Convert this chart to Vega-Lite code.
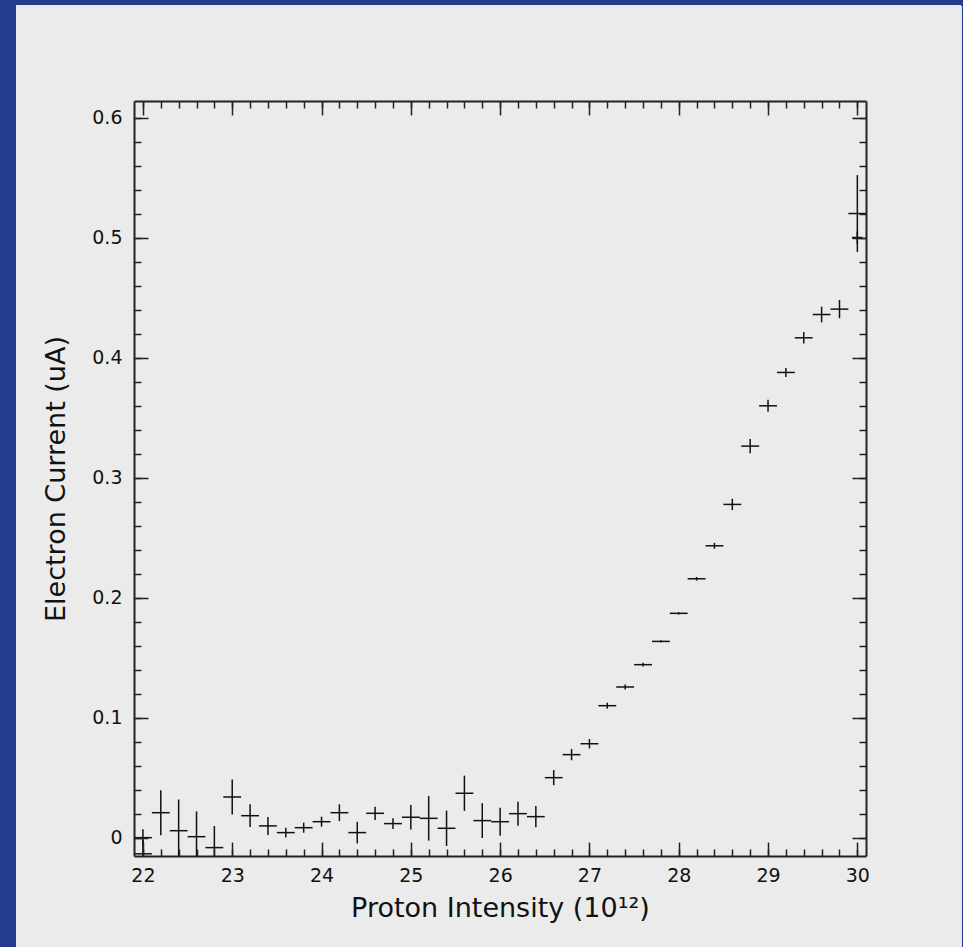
{
  "$schema": "https://vega.github.io/schema/vega-lite/v6.json",
  "width": 732,
  "height": 755,
  "autosize": {"type": "none"},
  "padding": {"left": 134, "top": 101, "right": 97, "bottom": 91},
  "background": "#243c8c",
  "config": {
    "view": {"stroke": null},
    "axis": {
      "grid": false,
      "tickColor": "#222222",
      "tickWidth": 1.5,
      "domainColor": "#222222",
      "domainWidth": 2,
      "labelFont": "DejaVu Sans",
      "labelFontSize": 19,
      "labelColor": "#111111",
      "titleFont": "DejaVu Sans",
      "titleFontSize": 27,
      "titleFontWeight": "normal",
      "titleColor": "#111111",
      "labelFlush": false,
      "labelOverlap": false
    }
  },
  "data": {
    "values": [
      {"x": 22.0, "y": 0.000, "xerr": 0.1, "yerr": 0.007},
      {"x": 22.0, "y": -0.0135, "xerr": 0.1, "yerr": 0.012},
      {"x": 22.2, "y": 0.0208, "xerr": 0.1, "yerr": 0.0187},
      {"x": 22.4, "y": 0.0058, "xerr": 0.1, "yerr": 0.026},
      {"x": 22.6, "y": 0.0008, "xerr": 0.1, "yerr": 0.021},
      {"x": 22.8, "y": -0.0083, "xerr": 0.1, "yerr": 0.018},
      {"x": 23.0, "y": 0.0339, "xerr": 0.1, "yerr": 0.0146},
      {"x": 23.2, "y": 0.0183, "xerr": 0.1, "yerr": 0.0095},
      {"x": 23.4, "y": 0.0098, "xerr": 0.1, "yerr": 0.0075},
      {"x": 23.6, "y": 0.0042, "xerr": 0.1, "yerr": 0.004},
      {"x": 23.8, "y": 0.0083, "xerr": 0.1, "yerr": 0.0042},
      {"x": 24.0, "y": 0.0133, "xerr": 0.1, "yerr": 0.0042},
      {"x": 24.2, "y": 0.0208, "xerr": 0.1, "yerr": 0.007},
      {"x": 24.4, "y": 0.0042, "xerr": 0.1, "yerr": 0.009},
      {"x": 24.6, "y": 0.0203, "xerr": 0.1, "yerr": 0.0055},
      {"x": 24.8, "y": 0.0117, "xerr": 0.1, "yerr": 0.0045},
      {"x": 25.0, "y": 0.017, "xerr": 0.1, "yerr": 0.0102},
      {"x": 25.2, "y": 0.0161, "xerr": 0.1, "yerr": 0.0186},
      {"x": 25.4, "y": 0.0078, "xerr": 0.1, "yerr": 0.0147},
      {"x": 25.6, "y": 0.037, "xerr": 0.1, "yerr": 0.0147},
      {"x": 25.8, "y": 0.0142, "xerr": 0.1, "yerr": 0.0145},
      {"x": 26.0, "y": 0.0133, "xerr": 0.1, "yerr": 0.0117},
      {"x": 26.2, "y": 0.020, "xerr": 0.1, "yerr": 0.010},
      {"x": 26.4, "y": 0.0175, "xerr": 0.1, "yerr": 0.0089},
      {"x": 26.6, "y": 0.050, "xerr": 0.1, "yerr": 0.0063},
      {"x": 26.8, "y": 0.0692, "xerr": 0.1, "yerr": 0.0047},
      {"x": 27.0, "y": 0.0783, "xerr": 0.1, "yerr": 0.0039},
      {"x": 27.2, "y": 0.110, "xerr": 0.1, "yerr": 0.0025},
      {"x": 27.4, "y": 0.1256, "xerr": 0.1, "yerr": 0.002},
      {"x": 27.6, "y": 0.1442, "xerr": 0.1, "yerr": 0.0015},
      {"x": 27.8, "y": 0.1636, "xerr": 0.1, "yerr": 0.001},
      {"x": 28.0, "y": 0.187, "xerr": 0.1, "yerr": 0.001},
      {"x": 28.2, "y": 0.2158, "xerr": 0.1, "yerr": 0.0015},
      {"x": 28.4, "y": 0.2433, "xerr": 0.1, "yerr": 0.0025},
      {"x": 28.6, "y": 0.2778, "xerr": 0.1, "yerr": 0.0047},
      {"x": 28.8, "y": 0.3264, "xerr": 0.1, "yerr": 0.006},
      {"x": 29.0, "y": 0.360, "xerr": 0.1, "yerr": 0.005},
      {"x": 29.2, "y": 0.3878, "xerr": 0.1, "yerr": 0.0037},
      {"x": 29.4, "y": 0.4167, "xerr": 0.1, "yerr": 0.0048},
      {"x": 29.6, "y": 0.4361, "xerr": 0.1, "yerr": 0.0065},
      {"x": 29.8, "y": 0.4406, "xerr": 0.1, "yerr": 0.0076},
      {"x": 30.0, "y": 0.5203, "xerr": 0.1, "yerr": 0.032},
      {"x": 30.0, "y": 0.5003, "xerr": 0.06, "yerr": 0.005}
    ]
  },
  "resolve": {"axis": {"x": "independent", "y": "independent"}},
  "layer": [
    {
      "mark": {"type": "rect", "color": "#ebebeb", "clip": false},
      "encoding": {
        "x": {"datum": 20.582, "type": "quantitative",
              "scale": {"domain": [21.9, 30.097], "nice": false, "zero": false},
              "axis": {"zindex": 2, "orient": "top", "values": [22, 23, 24, 25, 26, 27, 28, 29, 30], "tickSize": -14, "labels": false, "domain": true, "title": null}},
        "x2": {"datum": 31.162},
        "y": {"datum": 0.6935, "type": "quantitative",
              "scale": {"domain": [-0.0153, 0.6141], "nice": false, "zero": false},
              "axis": {"zindex": 2, "orient": "right", "values": [0, 0.1, 0.2, 0.3, 0.4, 0.5, 0.6], "tickSize": -14, "labels": false, "domain": true, "title": null}},
        "y2": {"datum": -0.2}
      }
    },
    {
      "mark": {"type": "errorbar", "color": "#111111", "thickness": 1.5, "clip": true},
      "encoding": {
        "x": {"field": "x", "type": "quantitative",
              "scale": {"domain": [21.9, 30.097], "nice": false, "zero": false},
              "axis": {"zindex": 2, "orient": "bottom", "values": [22, 23, 24, 25, 26, 27, 28, 29, 30], "tickSize": -14, "labelPadding": 24, "format": "d", "domain": true, "title": "Proton Intensity (10¹²)", "titleY": 52, "titleBaseline": "middle"}},
        "y": {"field": "y", "type": "quantitative",
              "scale": {"domain": [-0.0153, 0.6141], "nice": false, "zero": false},
              "axis": {"zindex": 2, "orient": "left", "values": [0, 0.1, 0.2, 0.3, 0.4, 0.5, 0.6], "tickSize": -14, "labelPadding": 26, "format": ".1~f", "domain": true, "title": "Electron Current (uA)", "titleX": -78, "titleBaseline": "middle"}},
        "yError": {"field": "yerr"}
      }
    },
    {
      "mark": {"type": "errorbar", "color": "#111111", "thickness": 1.5, "clip": true},
      "encoding": {
        "x": {"field": "x", "type": "quantitative",
              "scale": {"domain": [21.9, 30.097], "nice": false, "zero": false},
              "axis": {"zindex": 2, "orient": "bottom", "values": [22, 22.2, 22.4, 22.6, 22.8, 23, 23.2, 23.4, 23.6, 23.8, 24, 24.2, 24.4, 24.6, 24.8, 25, 25.2, 25.4, 25.6, 25.8, 26, 26.2, 26.4, 26.6, 26.8, 27, 27.2, 27.4, 27.6, 27.8, 28, 28.2, 28.4, 28.6, 28.8, 29, 29.2, 29.4, 29.6, 29.8, 30], "tickSize": -7, "labels": false, "domain": false, "title": null}},
        "xError": {"field": "xerr"},
        "y": {"field": "y", "type": "quantitative",
              "scale": {"domain": [-0.0153, 0.6141], "nice": false, "zero": false},
              "axis": {"zindex": 2, "orient": "left", "values": [0, 0.02, 0.04, 0.06, 0.08, 0.1, 0.12, 0.14, 0.16, 0.18, 0.2, 0.22, 0.24, 0.26, 0.28, 0.3, 0.32, 0.34, 0.36, 0.38, 0.4, 0.42, 0.44, 0.46, 0.48, 0.5, 0.52, 0.54, 0.56, 0.58, 0.6], "tickSize": -7, "labels": false, "domain": false, "title": null}}
      }
    },
    {
      "mark": {"type": "point", "opacity": 0},
      "encoding": {
        "x": {"field": "x", "type": "quantitative",
              "scale": {"domain": [21.9, 30.097], "nice": false, "zero": false},
              "axis": {"zindex": 2, "orient": "top", "values": [22, 22.2, 22.4, 22.6, 22.8, 23, 23.2, 23.4, 23.6, 23.8, 24, 24.2, 24.4, 24.6, 24.8, 25, 25.2, 25.4, 25.6, 25.8, 26, 26.2, 26.4, 26.6, 26.8, 27, 27.2, 27.4, 27.6, 27.8, 28, 28.2, 28.4, 28.6, 28.8, 29, 29.2, 29.4, 29.6, 29.8, 30], "tickSize": -7, "labels": false, "domain": false, "title": null}},
        "y": {"field": "y", "type": "quantitative",
              "scale": {"domain": [-0.0153, 0.6141], "nice": false, "zero": false},
              "axis": {"zindex": 2, "orient": "right", "values": [0, 0.02, 0.04, 0.06, 0.08, 0.1, 0.12, 0.14, 0.16, 0.18, 0.2, 0.22, 0.24, 0.26, 0.28, 0.3, 0.32, 0.34, 0.36, 0.38, 0.4, 0.42, 0.44, 0.46, 0.48, 0.5, 0.52, 0.54, 0.56, 0.58, 0.6], "tickSize": -7, "labels": false, "domain": false, "title": null}}
      }
    }
  ]
}
